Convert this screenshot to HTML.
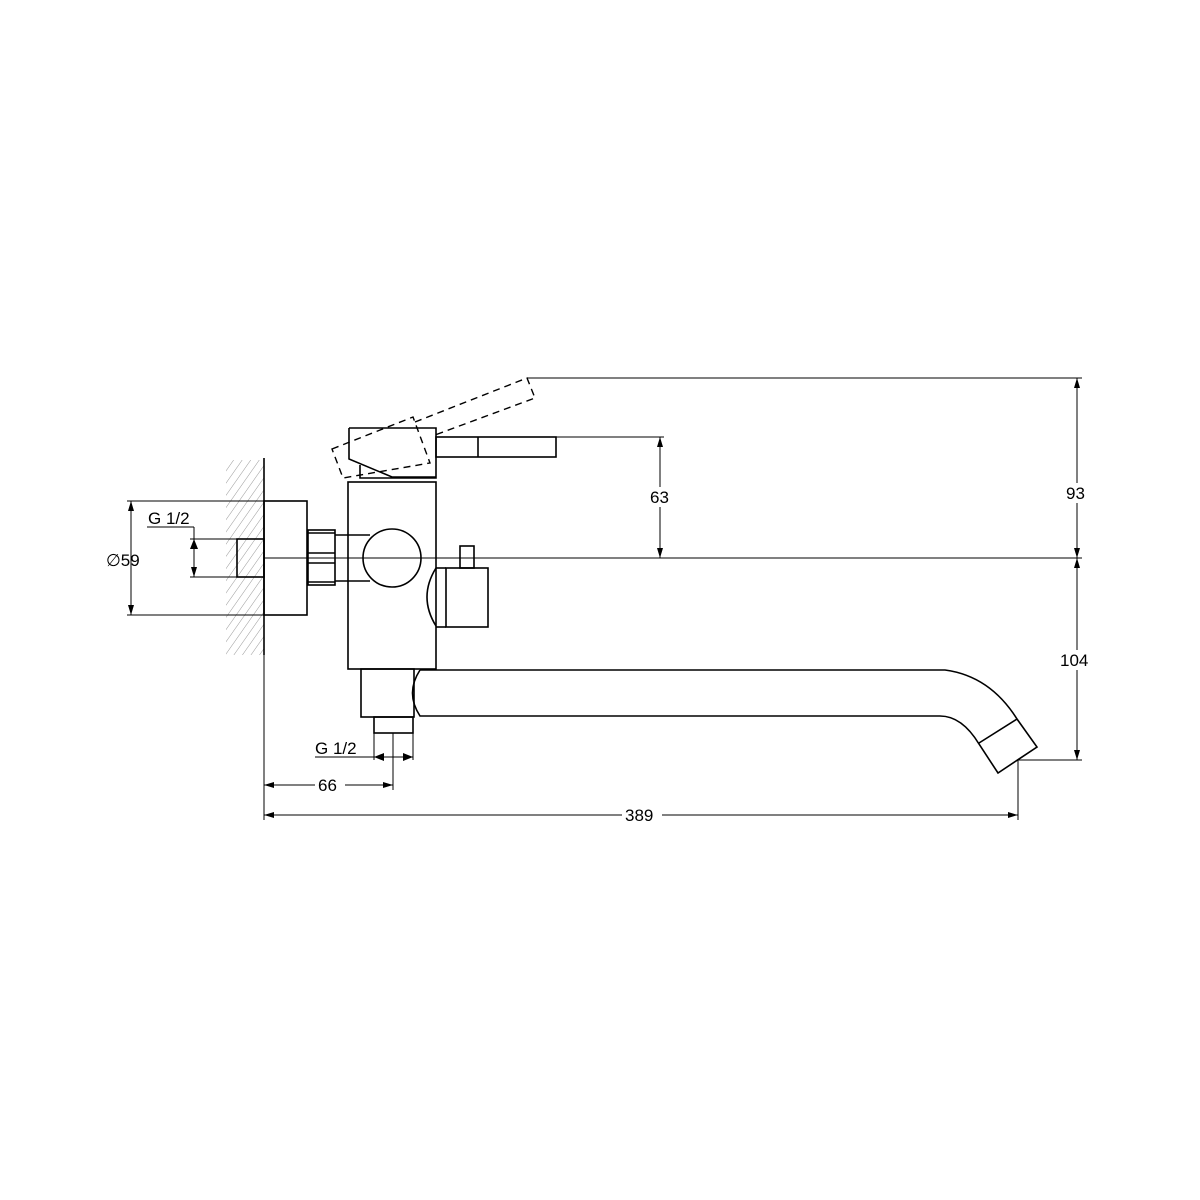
<!DOCTYPE html>
<html><head><style>html,body{margin:0;padding:0;background:#fff}svg{display:block}</style></head>
<body>
<svg width="1200" height="1200" viewBox="0 0 1200 1200" xmlns="http://www.w3.org/2000/svg" font-family="Liberation Sans, sans-serif">
<defs>
<pattern id="h" width="7" height="7" patternUnits="userSpaceOnUse" patternTransform="rotate(35)">
<line x1="0" y1="0" x2="0" y2="7" stroke="#999" stroke-width="1"/>
</pattern>
<marker id="a" viewBox="0 0 10 6" refX="10" refY="3" markerWidth="10" markerHeight="6" orient="auto-start-reverse" markerUnits="userSpaceOnUse"><path d="M0,0 L10,3 L0,6 z" fill="#000"/></marker>
</defs>
<rect x="226" y="460" width="38" height="195" fill="url(#h)"/>
<g stroke="#000" fill="none" stroke-width="1.6">
<line x1="264" y1="458" x2="264" y2="655"/>
<rect x="264" y="501" width="43" height="114"/>
<rect x="237" y="539" width="27" height="38"/>
<rect x="308" y="530" width="27" height="55"/>
<line x1="308" y1="533" x2="335" y2="533"/><line x1="308" y1="553" x2="335" y2="553"/><line x1="308" y1="563" x2="335" y2="563"/><line x1="308" y1="582" x2="335" y2="582"/>
<line x1="335" y1="535" x2="370" y2="535"/><line x1="335" y1="581" x2="370" y2="581"/>
<rect x="348" y="482" width="88" height="187"/>
<circle cx="392" cy="558" r="29" fill="#fff"/>
<path d="M436,568 Q418,597 436,626"/>
<rect x="446" y="568" width="42" height="59"/>
<line x1="436" y1="568" x2="446" y2="568"/><line x1="436" y1="627" x2="446" y2="627"/>
<rect x="460" y="546" width="14" height="22"/>
<path d="M349,428 L436,428 L436,478 L360,478 L360,465 M349,428 L349,459 L392,477 L436,477"/>
<rect x="436" y="437" width="120" height="20"/>
<line x1="478" y1="437" x2="478" y2="457"/>
<rect x="361" y="669" width="53" height="48"/>
<path d="M420,670 L945,670 Q990,676 1017,719 L1037,747 L998,773 L979,744 Q962,716 940,716 L420,716 Q405,693 420,670"/>
<line x1="979" y1="743" x2="1017" y2="719"/>
<rect x="374" y="717" width="39" height="16"/>
</g>
<g stroke="#000" fill="none" stroke-width="1.4" stroke-dasharray="7,5">
<path d="M332,449 L413,417 L430,463 L343,478 Z"/>
<path d="M415,422 L527,378 L535,398 L435,435"/>
</g>
<g stroke="#000" fill="none" stroke-width="1">
<line x1="264" y1="558" x2="1082" y2="558"/>
<line x1="527" y1="378" x2="1082" y2="378"/>
<line x1="556" y1="437" x2="664" y2="437"/>
<line x1="1018" y1="760" x2="1082" y2="760"/>
<line x1="127" y1="501" x2="264" y2="501"/><line x1="127" y1="615" x2="264" y2="615"/>
<line x1="190" y1="539" x2="237" y2="539"/><line x1="190" y1="577" x2="237" y2="577"/>
<line x1="147" y1="527" x2="194" y2="527"/>
<line x1="264" y1="655" x2="264" y2="820"/>
<line x1="393" y1="733" x2="393" y2="790"/>
<line x1="374" y1="733" x2="374" y2="760"/><line x1="413" y1="733" x2="413" y2="760"/>
<line x1="315" y1="757" x2="413" y2="757"/>
<line x1="1018" y1="760" x2="1018" y2="820"/>
</g>
<g stroke="#000" stroke-width="1" fill="none" marker-start="url(#a)" marker-end="url(#a)">
<line x1="131" y1="501" x2="131" y2="615"/>
<line x1="660" y1="437" x2="660" y2="558"/>
<line x1="1077" y1="378" x2="1077" y2="558"/>
<line x1="1077" y1="558" x2="1077" y2="760"/>
<line x1="264" y1="785" x2="393" y2="785"/>
<line x1="264" y1="815" x2="1018" y2="815"/>
</g>
<line x1="194" y1="527" x2="194" y2="577" stroke="#000" stroke-width="1" marker-end="url(#a)"/>
<path d="M190,549 L194,539 L198,549 z" fill="#000"/>
<path d="M384,753 L374,757 L384,761 z M403,753 L413,757 L403,761 z" fill="#000"/>
<g fill="#fff"><rect x="315" y="776" width="30" height="18"/><rect x="622" y="806" width="40" height="18"/><rect x="648" y="487" width="26" height="20"/><rect x="1064" y="483" width="26" height="20"/><rect x="1058" y="650" width="38" height="20"/></g>
<g font-size="17" fill="#000">
<text x="148" y="524">G 1/2</text>
<text x="106" y="566">∅59</text>
<text x="315" y="754">G 1/2</text>
<text x="318" y="791">66</text>
<text x="625" y="821">389</text>
<text x="650" y="503">63</text>
<text x="1066" y="499">93</text>
<text x="1060" y="666">104</text>
</g>
</svg>
</body></html>
